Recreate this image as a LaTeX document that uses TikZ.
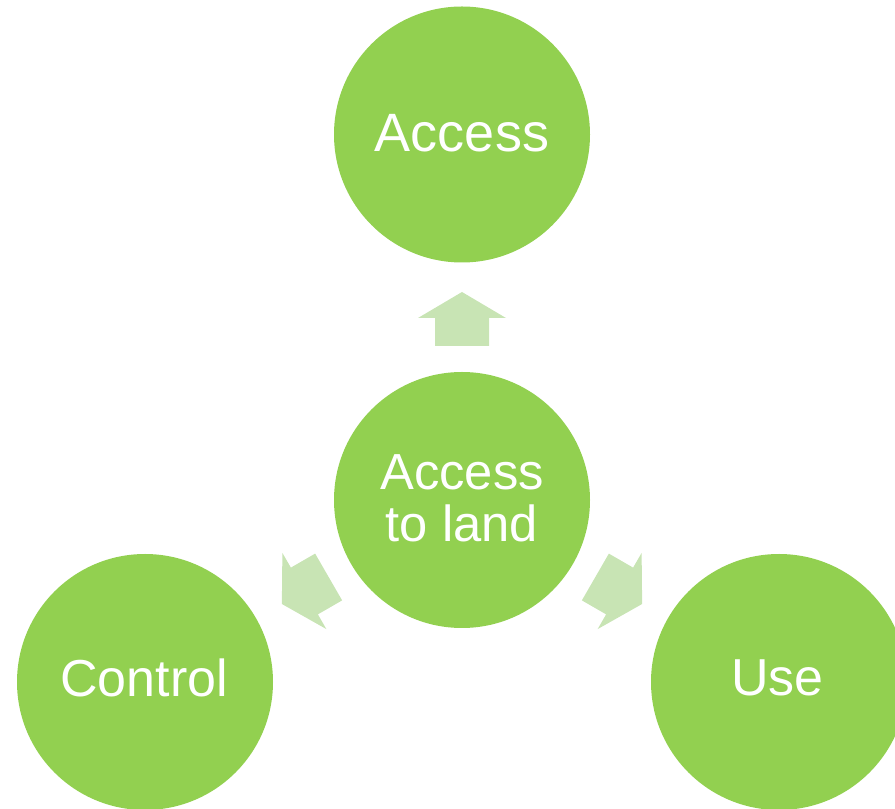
\documentclass[tikz,border=0pt]{standalone}
\usepackage{fontspec}
\setmainfont{Liberation Sans}
\definecolor{circgreen}{HTML}{92D050}
\definecolor{arrowgreen}{HTML}{C8E4B4}
\begin{document}
\begin{tikzpicture}[x=1pt,y=1pt,
  circ/.style={circle, fill=circgreen, draw=none, minimum size=256pt, inner sep=0pt},
  lbl/.style={text=white, font=\fontsize{52}{52}\selectfont, inner sep=0pt, anchor=base},
  lbltop/.style={text=white, font=\fontsize{54}{54}\selectfont, inner sep=0pt, anchor=base},
  lblc/.style={text=white, font=\fontsize{50.7}{50.7}\selectfont, inner sep=0pt, anchor=base},
  arr/.style={fill=arrowgreen, draw=none}]
\useasboundingbox (0,0) rectangle (895,809);
\begin{scope}
\clip (0,0) rectangle (895,809);
\node[circ] (A) at (462,674.5) {};
\node[circ] (C) at (462,309) {};
\node[circ] (L) at (145,127) {};
\node[circ] (U) at (779,127) {};
\foreach \ang in {90,210,330}{
  \fill[arr, shift={(C.center)}, rotate=\ang]
    (208,0) -- (182,44) -- (182,27) -- (154,27) -- (154,-27) -- (182,-27) -- (182,-44) -- cycle;
}
\end{scope}
\node[lbltop] (tA) at ([yshift=-17.2pt]A.center) {Access};
\node[lblc] (tC1) at ([yshift=10.7pt]C.center) {Access};
\node[lblc] (tC2) at ([yshift=-41.7pt]C.center) {to land};
\node[lbl] (tL) at ([xshift=-1pt,yshift=-14.7pt]L.center) {Control};
\node[lbl] (tU) at ([xshift=-1.5pt,yshift=-14pt]U.center) {Use};
\end{tikzpicture}
\end{document}
